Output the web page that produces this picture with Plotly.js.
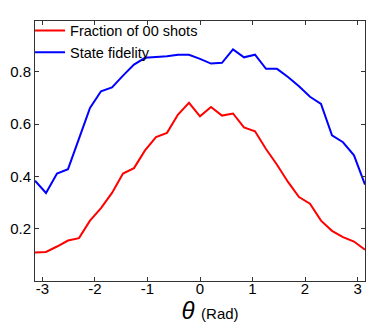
<!DOCTYPE html>
<html>
<head>
<meta charset="utf-8">
<script src="https://cdn.plot.ly/plotly-3.0.1.min.js"></script>
<style>
  body { margin: 0; background: #ffffff; }
  #chart { width: 391px; height: 331px; }
</style>
</head>
<body>
<div id="chart"></div>
<script>
// theta in radians, 31 samples from -pi to pi
var theta = [
  -3.1416, -2.9322, -2.7227, -2.5133, -2.3038, -2.0944, -1.8850, -1.6755,
  -1.4661, -1.2566, -1.0472, -0.8378, -0.6283, -0.4189, -0.2094, 0,
  0.2094, 0.4189, 0.6283, 0.8378, 1.0472, 1.2566, 1.4661, 1.6755,
  1.8850, 2.0944, 2.3038, 2.5133, 2.7227, 2.9322, 3.1416
];

var fraction00 = [
  0.109, 0.111, 0.132, 0.155, 0.164, 0.231, 0.279, 0.337,
  0.411, 0.432, 0.500, 0.551, 0.567, 0.637, 0.682, 0.630,
  0.666, 0.633, 0.641, 0.588, 0.573, 0.505, 0.445, 0.379,
  0.321, 0.296, 0.231, 0.192, 0.168, 0.151, 0.120
];

var fidelity = [
  0.384, 0.337, 0.411, 0.428, 0.545, 0.662, 0.726, 0.741,
  0.786, 0.828, 0.854, 0.856, 0.860, 0.866, 0.866, 0.850,
  0.832, 0.835, 0.886, 0.856, 0.866, 0.812, 0.812, 0.781,
  0.745, 0.705, 0.678, 0.557, 0.531, 0.481, 0.369
];

var xTicks = [-3, -2, -1, 0, 1, 2, 3];
var yTicks = [0.2, 0.4, 0.6, 0.8];

var fractionTrace = {
  name: 'Fraction of 00 shots',
  x: theta,
  y: fraction00,
  mode: 'lines',
  line: { color: '#ff0000', width: 2 },
  type: 'scatter',
};

var fidelityTrace = {
  name: 'State fidelity',
  x: theta,
  y: fidelity,
  mode: 'lines',
  line: { color: '#0000ff', width: 2 },
  type: 'scatter',
};

var axisStyle = {
  showgrid: false,
  zeroline: false,
  showline: true,
  linecolor: '#333333',
  linewidth: 1,
  mirror: 'ticks',
  ticks: 'inside',
  ticklen: 4,
  tickcolor: '#333333',
  tickfont: { size: 15, color: '#000000' },
};

var layout = {
  width: 391,
  height: 331,
  margin: { l: 35, r: 26, t: 21, b: 50 },
  font: { family: 'Liberation Sans, Arial, sans-serif', color: '#000000' },
  paper_bgcolor: '#ffffff',
  plot_bgcolor: '#ffffff',
  showlegend: true,
  legend: {
    x: -0.015,
    y: 1.025,
    xanchor: 'left',
    yanchor: 'top',
    bgcolor: 'rgba(0,0,0,0)',
    font: { size: 14.5 },
    tracegroupgap: 0,
  },
  xaxis: Object.assign({}, axisStyle, {
    range: [-Math.PI, Math.PI],
    tickvals: xTicks,
    ticktext: xTicks.map(String),
    ticklabelstandoff: -6,
    title: {
      // leading spaces nudge the label right, like the original
      text: '&nbsp;&nbsp;&nbsp;<i>θ</i> <span style="font-size:15px">(Rad)</span>',
      font: { size: 24 },
      standoff: 0,
    },
  }),
  yaxis: Object.assign({}, axisStyle, {
    range: [0, 0.995],
    tickvals: yTicks,
    ticktext: yTicks.map(function (v) { return v.toFixed(1); }),
  }),
};

Plotly.newPlot('chart', [fractionTrace, fidelityTrace], layout, { displayModeBar: false, staticPlot: true });
</script>
</body>
</html>
